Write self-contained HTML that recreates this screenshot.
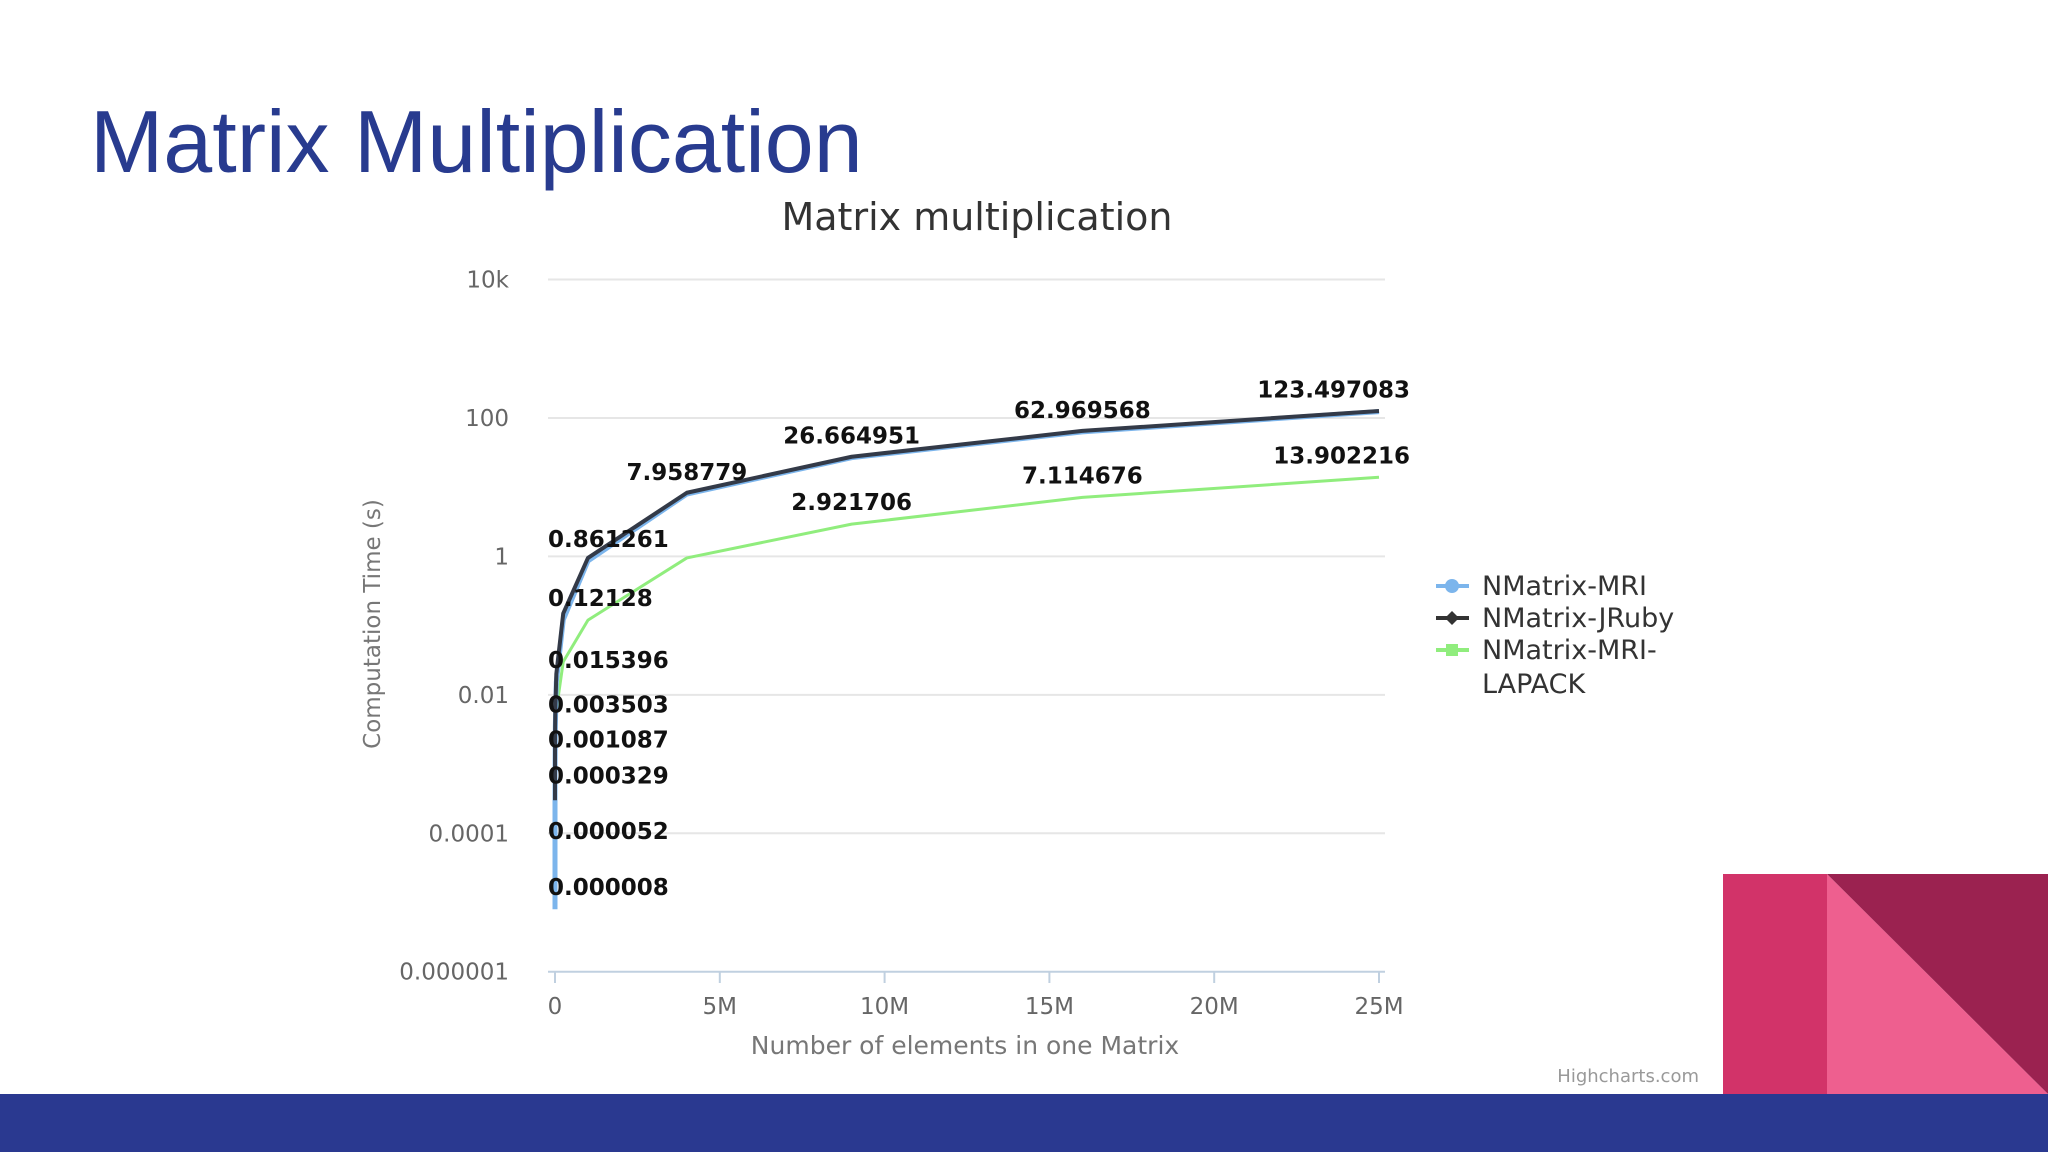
<!DOCTYPE html>
<html><head><meta charset="utf-8"><style>
body{margin:0;width:2048px;height:1152px;overflow:hidden;background:#fff;font-family:"DejaVu Sans","Liberation Sans",sans-serif;}
</style></head><body>
<svg width="2048" height="1152" xmlns="http://www.w3.org/2000/svg">
<text x="90" y="172" font-family="Liberation Sans, sans-serif" font-size="88" fill="#283b8f">Matrix Multiplication</text>
<rect x="0" y="1094" width="2048" height="58" fill="#2a3990"/>
<rect x="1723" y="874" width="104" height="220" fill="#d23369"/>
<polygon points="1827,874 2048,1094 1827,1094" fill="#ee5f8f"/>
<polygon points="1827,874 2048,874 2048,1094" fill="#9b2250"/>
<text x="977" y="230" text-anchor="middle" font-size="38" fill="#333">Matrix multiplication</text>
<g id="chart"></g>
<text transform="translate(380,624) rotate(-90)" text-anchor="middle" font-size="23" fill="#777">Computation Time (s)</text>
<text x="965" y="1054" text-anchor="middle" font-size="25" fill="#777">Number of elements in one Matrix</text>
<g>
<g><line x1="1436" y1="586" x2="1469" y2="586" stroke="#7cb5ec" stroke-width="4"/><circle cx="1452" cy="586" r="7" fill="#7cb5ec"/><text x="1482" y="595" font-size="27" fill="#333">NMatrix-MRI</text></g>
<g><line x1="1436" y1="618" x2="1469" y2="618" stroke="#333" stroke-width="4"/><polygon points="1452,611 1459,618 1452,625 1445,618" fill="#333"/><text x="1482" y="627" font-size="27" fill="#333">NMatrix-JRuby</text></g>
<g><line x1="1436" y1="650" x2="1469" y2="650" stroke="#90ed7d" stroke-width="4"/><rect x="1446" y="644" width="12" height="12" fill="#90ed7d"/><text x="1482" y="659" font-size="27" fill="#333">NMatrix-MRI-</text><text x="1482" y="693" font-size="27" fill="#333">LAPACK</text></g>
</g>
<text x="1699" y="1082" text-anchor="end" font-size="18" fill="#999">Highcharts.com</text>
</svg>
<script>
const xValues=[4,100,400,2500,10000,40000,250000,1000000,4000000,9000000,16000000,25000000];
const mriValues=[0.000008,0.000052,0.000329,0.001087,0.003503,0.015396,0.12128,0.861261,7.958779,26.664951,62.969568,123.497083];
const jrubyValues=[0.0003,0.0006,0.0015,0.003,0.006,0.02,0.15,0.95,8.3,27.5,65,126];
const lapackValues=[0.00004,0.0001,0.0004,0.0009,0.002,0.006,0.03,0.12,0.95,2.921706,7.114676,13.902216];
const lapackLabels=[null,null,null,null,null,null,null,null,null,"2.921706","7.114676","13.902216"];
const mriLabels=["0.000008","0.000052","0.000329","0.001087","0.003503","0.015396","0.12128","0.861261","7.958779","26.664951","62.969568","123.497083"];
const yTicks=[10000,100,1,0.01,0.0001,0.000001];
const yTickLabels=["10k","100","1","0.01","0.0001","0.000001"];
const xTicks=[0,5e6,10e6,15e6,20e6,25e6];
const xTickLabels=["0","5M","10M","15M","20M","25M"];

const NS="http://www.w3.org/2000/svg";
const g=document.getElementById('chart');
const L=548,R=1385,X0=555,X1=1379;
const xs=v=>X0+(v/25e6)*(X1-X0);
const ys=v=>971.7-(Math.log10(v)+6)*(971.7-279.5)/10;
function mk(t,a){const e=document.createElementNS(NS,t);for(const k in a)e.setAttribute(k,a[k]);g.appendChild(e);return e;}
yTicks.forEach((t,i)=>{
 const l=mk('line',{x1:L,x2:R,y1:ys(t),y2:ys(t),stroke:i===yTicks.length-1?'#c0d0e0':'#e6e6e6','stroke-width':2});
 
 
 const tx=mk('text',{x:509,y:ys(t)+8,'text-anchor':'end','font-size':23,fill:'#666'});
 tx.textContent=yTickLabels[i];
 
 
});
xTicks.forEach((t,i)=>{
 const l=mk('line',{x1:xs(t),x2:xs(t),y1:971.7,y2:983,stroke:'#c0d0e0','stroke-width':2});
 
 
 const tx=mk('text',{x:xs(t),y:1014,'text-anchor':'middle','font-size':23,fill:'#666'});
 tx.textContent=xTickLabels[i];
 
 
});
function series(vals,color,w,name){
 const p=mk('polyline',{points:vals.map((v,i)=>xs(xValues[i])+','+ys(v)).join(' '),fill:'none',stroke:color,'stroke-width':w,'stroke-linejoin':'round'});
 
 
}
series(lapackValues,'#90ed7d',3,'series-lapack');
series(mriValues,'#7cb5ec',5,'series-mri');
series(jrubyValues,'#333a48',4,'series-jruby');
function labels(vals,labs,dy,name){
 vals.forEach((v,i)=>{
  if(!labs[i])return;
  const w=labs[i].length*14.2;
  let x=xs(xValues[i]),anchor='middle';
  if(x-w/2<L){x=L;anchor='start';}
  if(x+w/2>1410){x=1410;anchor='end';}
  const t=mk('text',{x:x,y:ys(v)-dy,'text-anchor':anchor,'font-size':23,'font-weight':'bold',fill:'#111'});
  t.textContent=labs[i];
  
  
 });
}
labels(mriValues,mriLabels,14,'data-label-mri');
labels(lapackValues,lapackLabels,14,'data-label-lapack');
</script>
</body></html>
